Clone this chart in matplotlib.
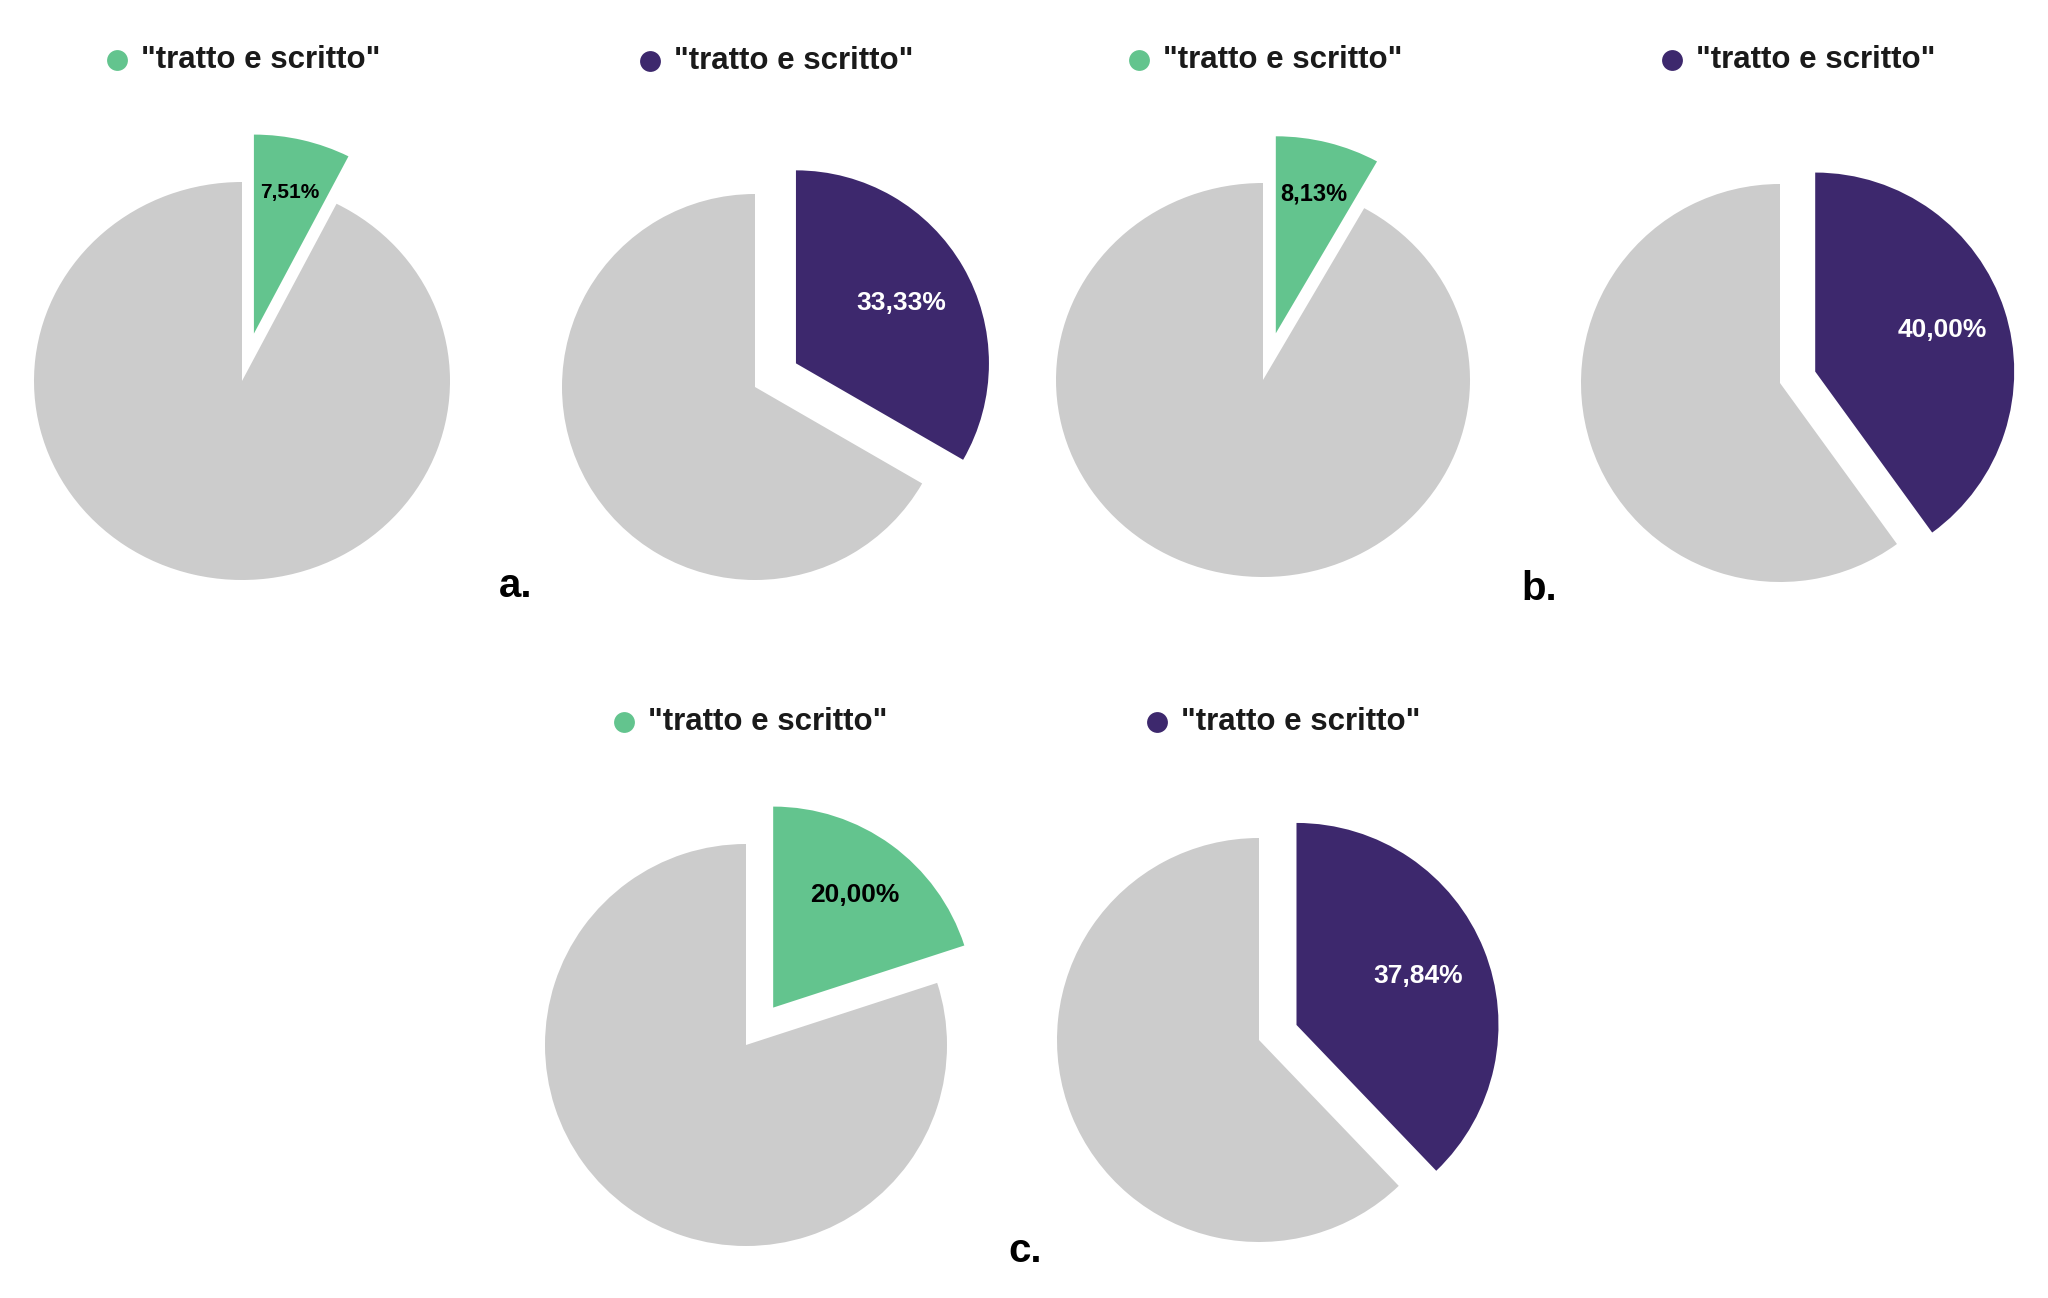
# =====================================================
# GRAFICI A TORTA - "tratto e scritto"
# =====================================================

import matplotlib
matplotlib.use("Agg")
import matplotlib.pyplot as plt

# =====================================================
# DATI
# =====================================================

etichetta = '"tratto e scritto"'
pannelli = ["a.", "b.", "c."]

# quota percentuale della categoria per ciascuna torta (a1, a2, b1, b2, c1, c2)
quote = [7.51, 33.33, 8.13, 40.00, 20.00, 37.84]
serie = ["verde", "viola", "verde", "viola", "verde", "viola"]

# =====================================================
# STILE E POSIZIONI (pixel, origine in alto a sinistra)
# =====================================================

W, H = 2048, 1298
colori = {"verde": "#63c48e", "viola": "#3d286d"}
colore_testo = {"verde": "black", "viola": "white"}
grigio = "#cccccc"

centri = [(242, 381), (755, 387), (1263, 380), (1780, 383), (746, 1045), (1259, 1040)]
raggi = [(208, 199), (193, 193), (207, 197), (199, 199), (201, 201), (202, 202)]
esplosione = [0.245, 0.245, 0.245, 0.186, 0.23, 0.20]
dist_pct = [0.73, 0.63, 0.73, 0.67, 0.69, 0.65]
size_pct = [15, 19, 17, 19, 19, 19]

legenda_pos = [(117, 60), (650, 61), (1139, 60), (1672, 60), (624, 722), (1157, 722)]
pannelli_pos = [(516, 597), (1539, 600), (1025, 1262)]

plt.rcParams["font.family"] = ["Liberation Sans", "DejaVu Sans"]

fig = plt.figure(figsize=(W / 100, H / 100), dpi=100)
fig.patch.set_facecolor("white")

# =====================================================
# TORTE
# =====================================================

for i, q in enumerate(quote):
    cx, cy = centri[i]
    rx, ry = raggi[i]
    ax = fig.add_axes([0, 0, 1, 1])
    ax.patch.set_alpha(0)
    wedges, testi, pct = ax.pie(
        [q, 100 - q],
        colors=[colori[serie[i]], grigio],
        startangle=90,
        counterclock=False,
        explode=[esplosione[i], 0],
        autopct=lambda p: f"{p:.2f}%".replace(".", ","),
        pctdistance=dist_pct[i],
        wedgeprops=dict(linewidth=0),
        textprops=dict(fontsize=size_pct[i], fontweight="bold",
                       color=colore_testo[serie[i]]),
    )
    pct[1].set_text("")
    ax.set_aspect("auto")
    ax.set_xlim(-cx / rx, (W - cx) / rx)
    ax.set_ylim(-(H - cy) / ry, cy / ry)
    ax.axis("off")

# =====================================================
# LEGENDE E LETTERE
# =====================================================

top = fig.add_axes([0, 0, 1, 1])
top.patch.set_alpha(0)
top.set_xlim(0, W)
top.set_ylim(H, 0)
top.axis("off")

for i, (mx, my) in enumerate(legenda_pos):
    top.plot(mx, my, marker="o", markersize=15, color=colori[serie[i]],
             markeredgewidth=0)
    top.text(mx + 24, my, etichetta, fontsize=22.5, fontweight="bold",
             color="#1a1a1a", ha="left", va="center")

for nome, (px, py) in zip(pannelli, pannelli_pos):
    top.text(px, py, nome, fontsize=29, fontweight="bold", color="black",
             ha="center", va="baseline")

plt.savefig("out.png", dpi=100, facecolor="white")
